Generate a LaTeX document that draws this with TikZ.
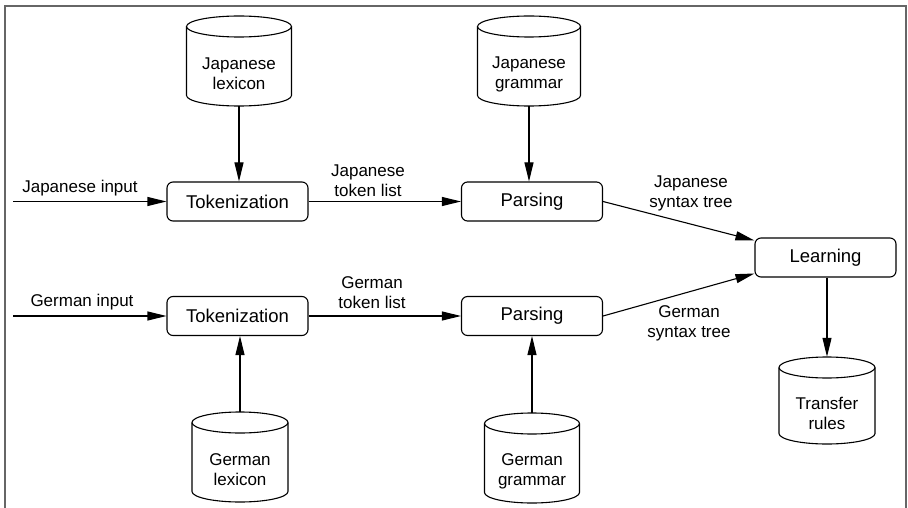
\documentclass[tikz,border=0pt]{standalone}
\usepackage{fontspec}
\setmainfont{Liberation Sans}
\usetikzlibrary{arrows.meta,calc}

% A data store drawn as an upright cylinder.
% #1 name, #2 centre x, #3 centre y, #4 width, #5 height, #6 text
\newcommand\storeat[6]{%
  \node[storebox, minimum width=#4pt, minimum height=#5pt] (#1) at (#2,#3) {};
  \draw[storeline] (#2-#4/2, #3-#5/2+10.5) -- (#2-#4/2, #3+#5/2-10.5)
    arc[start angle=180, end angle=0, x radius=#4/2, y radius=10.5]
    -- (#2+#4/2, #3-#5/2+10.5);
  \draw[storeline] (#2, #3-#5/2+10.5) ellipse[x radius=#4/2, y radius=10.5];
  \node[storetext] (#1t) at (#2,#3+13) {#6};
}

\begin{document}
\begin{tikzpicture}[x=1pt,y=-1pt,
  proc/.style={draw, rounded corners=6pt, minimum width=141pt, minimum height=39pt,
    inner sep=0pt, line width=1.1pt, font=\fontsize{18.5}{22}\selectfont},
  storebox/.style={rectangle, inner sep=0pt},
  storeline/.style={line width=1.1pt},
  storetext/.style={align=center, inner sep=0pt, font=\fontsize{17}{20}\selectfont},
  lbl/.style={align=center, inner sep=0pt, font=\fontsize{17}{20}\selectfont},
  flow/.style={-{Triangle[length=19pt,width=9pt]}, line width=1.1pt}
]
\useasboundingbox (0,0) rectangle (908,508);

% outer frame, open at the bottom
\draw[black!60, line width=1.5pt] (5,508) -- (5,6) -- (906,6) -- (906,508);

% processing steps
\node[proc] (tok1) at (237.5,201.5) {Tokenization};
\node[proc] (tok2) at (237.5,316) {Tokenization};
\node[proc] (par1) at (532,201.5) {Parsing};
\node[proc] (par2) at (532,316) {Parsing};
\node[proc] (learn) at (825.5,257.5) {Learning};

% data stores
\storeat{jlex}{239}{61}{105}{90}{Japanese\\lexicon}
\storeat{jgram}{529}{61}{103}{90}{Japanese\\grammar}
\storeat{glex}{240}{457}{96}{90}{German\\lexicon}
\storeat{ggram}{532}{458}{95}{90}{German\\grammar}
\storeat{rules}{827}{400.5}{96}{87}{Transfer\\rules}

% inputs
\coordinate (jin) at (13,201.5);
\coordinate (gin) at (13,316);
\draw[flow] (jin) -- (tok1.west);
\draw[flow] (gin) -- (tok2.west);
\node[lbl] (jinl) at (80,188) {Japanese input};
\node[lbl] (ginl) at (82,302.5) {German input};

% lexicon and grammar lookups
\draw[flow] (jlex.south) -- (jlex.south |- tok1.north);
\draw[flow] (glex.north) -- (glex.north |- tok2.south);
\draw[flow] (jgram.south) -- (jgram.south |- par1.north);
\draw[flow] (ggram.north) -- (ggram.north |- par2.south);

% token lists
\draw[flow] (tok1.east) -- (par1.west);
\draw[flow] (tok2.east) -- (par2.west);
\node[lbl] (jtok) at (368,180.5) {Japanese\\token list};
\node[lbl] (gtok) at (372,292.5) {German\\token list};

% syntax trees
\draw[flow] (par1.east) -- ($(learn.west)+(0,-17)$);
\draw[flow] (par2.east) -- ($(learn.west)+(0,16)$);
\node[lbl] (jtree) at (691,193) {Japanese\\syntax tree};
\node[lbl] (gtree) at (689,323) {German\\syntax tree};

% learned output
\draw[flow] (learn.south -| rules.north) -- (rules.north);
\end{tikzpicture}
\end{document}
